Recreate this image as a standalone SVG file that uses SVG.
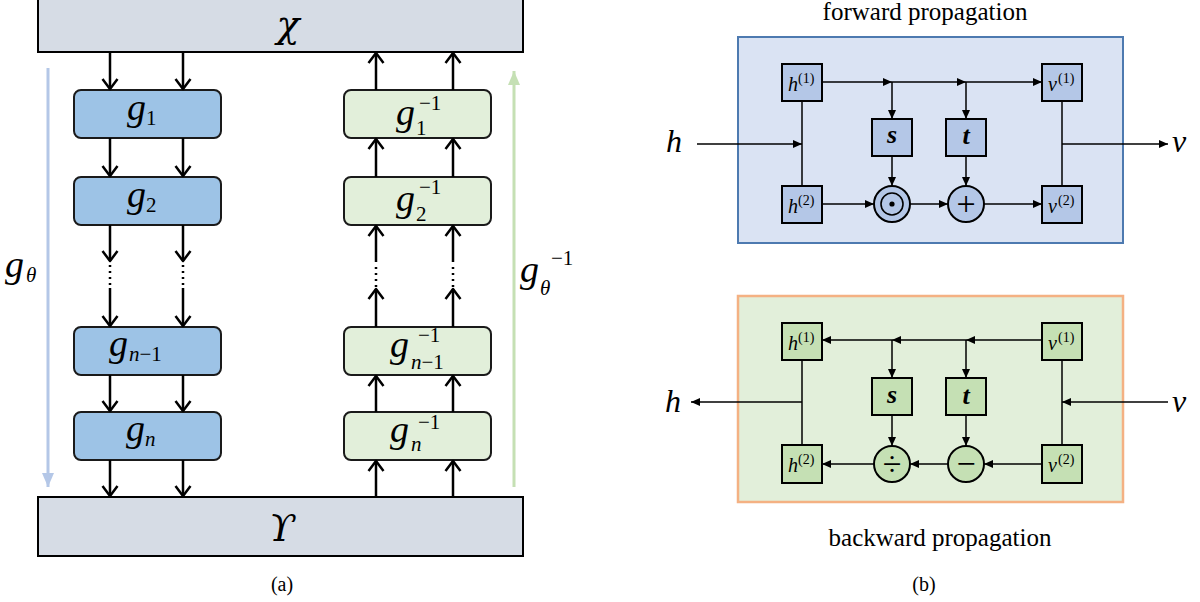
<svg xmlns="http://www.w3.org/2000/svg" width="1200" height="602" viewBox="0 0 1200 602">
<style>
.m{font-family:"Liberation Serif",serif;font-style:italic;font-size:38px;fill:#000}
.sb{font-family:"Liberation Serif",serif;font-style:normal;font-size:21px;fill:#000}
.si{font-family:"Liberation Serif",serif;font-style:italic;font-size:21px;fill:#000}
.big{font-family:"DejaVu Serif","Liberation Serif",serif;font-style:italic;font-size:38px;fill:#000}
.cap{font-family:"Liberation Serif",serif;font-size:25px;fill:#000}
.lab{font-family:"Liberation Serif",serif;font-size:20px;fill:#000}
.n{font-family:"Liberation Serif",serif;font-style:italic;font-size:20px;fill:#000}
.ns{font-family:"Liberation Serif",serif;font-size:14px;fill:#000}
.st{font-family:"Liberation Serif",serif;font-style:italic;font-weight:bold;font-size:26px;fill:#000}
.io{font-family:"Liberation Serif",serif;font-style:italic;font-size:32px;fill:#000}
.op{font-family:"Liberation Serif",serif;font-size:34px;fill:#000;text-anchor:middle}
.big-box{fill:#d6dce5;stroke:#000;stroke-width:2}
.gb{fill:#9dc3e6;stroke:#1a1a1a;stroke-width:2}
.gg{fill:#e2efda;stroke:#1a1a1a;stroke-width:2}
.fa{fill:none;stroke:#000;stroke-width:2.5;marker-end:url(#open)}
.dot{fill:none;stroke:#000;stroke-width:2.5;stroke-dasharray:2 4}
.sq1{fill:#b4c7e7;stroke:#000;stroke-width:2}
.sq2{fill:#c5e0b4;stroke:#000;stroke-width:2}
.c{fill:none;stroke:#000;stroke-width:1.5}
.ca{fill:none;stroke:#000;stroke-width:1.5;marker-end:url(#tri)}
</style>
<defs>
<marker id="open" viewBox="-12 -10 14 20" refX="0" refY="0" markerWidth="14" markerHeight="20" orient="auto" markerUnits="userSpaceOnUse">
<path d="M-10,-7.5 L0,0 L-10,7.5" fill="none" stroke="#000" stroke-width="2.5" stroke-linejoin="round"/>
</marker>
<marker id="tri" viewBox="0 0 9 8" refX="9" refY="4" markerWidth="9" markerHeight="8" orient="auto" markerUnits="userSpaceOnUse">
<path d="M0,0 L9,4 L0,8 z" fill="#000"/>
</marker>
<marker id="bhead" viewBox="0 0 14 12" refX="14" refY="6" markerWidth="14" markerHeight="12" orient="auto" markerUnits="userSpaceOnUse">
<path d="M0,0 L14,6 L0,12 z" fill="#b4c7e7"/>
</marker>
<marker id="ghead" viewBox="0 0 14 12" refX="14" refY="6" markerWidth="14" markerHeight="12" orient="auto" markerUnits="userSpaceOnUse">
<path d="M0,0 L14,6 L0,12 z" fill="#c5e0b4"/>
</marker>
</defs>
<rect width="1200" height="602" fill="#fff"/>

<!-- Panel (a) -->
<g id="X"><rect class="big-box" x="38" y="-2" width="485" height="54"/><text class="big" x="288" y="37" text-anchor="middle">χ</text></g>
<g id="Y"><rect class="big-box" x="38" y="497" width="485" height="59"/><text class="big" x="282" y="541" text-anchor="middle">ϒ</text></g>

<g id="g1"><rect class="gb" x="74" y="90" width="147" height="48" rx="7"/><text class="m" x="127" y="120">g</text><text class="sb" x="146" y="125">1</text></g>
<g id="g2"><rect class="gb" x="74" y="177" width="147" height="48" rx="7"/><text class="m" x="127" y="207">g</text><text class="sb" x="146" y="212">2</text></g>
<g id="gn1"><rect class="gb" x="74" y="327" width="147" height="48" rx="7"/><text class="m" x="109" y="356">g</text><text class="si" x="129" y="361">n<tspan class="sb">−1</tspan></text></g>
<g id="gn"><rect class="gb" x="74" y="412" width="147" height="48" rx="7"/><text class="m" x="126" y="441">g</text><text class="si" x="145" y="446">n</text></g>

<g id="ig1"><rect class="gg" x="344" y="90" width="147" height="48" rx="7"/><text class="m" x="396" y="125">g</text><text class="sb" x="419" y="110">−1</text><text class="sb" x="416" y="135">1</text></g>
<g id="ig2"><rect class="gg" x="344" y="177" width="147" height="48" rx="7"/><text class="m" x="396" y="211">g</text><text class="sb" x="419" y="194">−1</text><text class="sb" x="416" y="221">2</text></g>
<g id="ign1"><rect class="gg" x="344" y="327" width="147" height="48" rx="7"/><text class="m" x="390" y="357">g</text><text class="sb" x="418" y="342">−1</text><text class="si" x="411" y="369">n<tspan class="sb">−1</tspan></text></g>
<g id="ign"><rect class="gg" x="344" y="412" width="147" height="48" rx="7"/><text class="m" x="390" y="442">g</text><text class="sb" x="418" y="429">−1</text><text class="si" x="411" y="451">n</text></g>

<g id="gtheta"><text class="m" x="5" y="277">g</text><text class="si" x="26" y="282">θ</text></g>
<g id="gthetainv"><text class="m" x="520" y="282">g</text><text class="si" x="540" y="295">θ</text><text class="sb" x="551" y="265">−1</text></g>

<g id="connectors-a">
<line x1="48" y1="68" x2="48" y2="487" stroke="#b4c7e7" stroke-width="3" marker-end="url(#bhead)"/>
<line x1="514" y1="487" x2="514" y2="71" stroke="#c5e0b4" stroke-width="3" marker-end="url(#ghead)"/>
<path class="fa" d="M110,52 V89"/><path class="fa" d="M183,52 V89"/>
<path class="fa" d="M110,138 V176"/><path class="fa" d="M183,138 V176"/>
<path class="fa" d="M110,225 V261"/><path class="fa" d="M183,225 V261"/>
<path class="dot" d="M110,265 V288"/><path class="dot" d="M183,265 V288"/>
<path class="fa" d="M110,288 V326"/><path class="fa" d="M183,288 V326"/>
<path class="fa" d="M110,375 V411"/><path class="fa" d="M183,375 V411"/>
<path class="fa" d="M110,460 V496"/><path class="fa" d="M183,460 V496"/>
<path class="fa" d="M376,497 V461"/><path class="fa" d="M453,497 V461"/>
<path class="fa" d="M376,412 V376"/><path class="fa" d="M453,412 V376"/>
<path class="fa" d="M376,327 V289"/><path class="fa" d="M453,327 V289"/>
<path class="dot" d="M376,287 V263"/><path class="dot" d="M453,287 V263"/>
<path class="fa" d="M376,262 V226"/><path class="fa" d="M453,262 V226"/>
<path class="fa" d="M376,177 V139"/><path class="fa" d="M453,177 V139"/>
<path class="fa" d="M376,90 V53"/><path class="fa" d="M453,90 V53"/>
</g>
<text class="lab" x="282" y="591" text-anchor="middle">(a)</text>

<!-- Panel (b) forward -->
<text class="cap" x="925" y="20" text-anchor="middle">forward propagation</text>
<rect x="738" y="37" width="385" height="206" fill="#dae3f3" stroke="#4d7ab0" stroke-width="2"/>
<g id="connectors-fwd">
<path class="ca" d="M697,144 H802"/>
<path class="c" d="M802,101 V186"/>
<path class="c" d="M1062,101 V186"/>
<path class="ca" d="M1062,144 H1168"/>
<path class="ca" d="M822,82 H892"/>
<path class="ca" d="M892,82 H966"/>
<path class="ca" d="M966,82 H1042"/>
<path class="ca" d="M892,82 V119"/>
<path class="ca" d="M966,82 V119"/>
<path class="ca" d="M892,156 V186"/>
<path class="ca" d="M966,156 V186"/>
<path class="ca" d="M822,204 H874"/>
<path class="ca" d="M910,204 H948"/>
<path class="ca" d="M984,204 H1042"/>
</g>
<g id="f-h1"><rect class="sq1" x="782" y="64" width="40" height="37"/><text class="n" x="788" y="91">h</text><text class="ns" x="798" y="83">(1)</text></g>
<g id="f-v1"><rect class="sq1" x="1042" y="64" width="40" height="37"/><text class="n" x="1048" y="91">v</text><text class="ns" x="1058" y="83">(1)</text></g>
<g id="f-s"><rect class="sq1" x="872" y="119" width="40" height="37"/><text class="st" x="892" y="143" text-anchor="middle">s</text></g>
<g id="f-t"><rect class="sq1" x="946" y="119" width="40" height="37"/><text class="st" x="966" y="144" text-anchor="middle">t</text></g>
<g id="f-h2"><rect class="sq1" x="782" y="186" width="40" height="37"/><text class="n" x="788" y="213">h</text><text class="ns" x="798" y="205">(2)</text></g>
<g id="f-v2"><rect class="sq1" x="1042" y="186" width="40" height="37"/><text class="n" x="1048" y="213">v</text><text class="ns" x="1058" y="205">(2)</text></g>
<g id="f-odot"><circle cx="892" cy="204" r="18" fill="#b4c7e7" stroke="#000" stroke-width="2"/><circle cx="892" cy="204" r="11" fill="none" stroke="#000" stroke-width="1.6"/><circle cx="892" cy="204" r="2.6" fill="#000"/></g>
<g id="f-plus"><circle cx="966" cy="204" r="18" fill="#b4c7e7" stroke="#000" stroke-width="2"/><text class="op" x="966" y="215">+</text></g>
<text class="io" x="666" y="152">h</text>
<text class="io" x="1172" y="152">v</text>

<!-- Panel (b) backward -->
<rect x="738" y="296" width="385" height="206" fill="#e2efda" stroke="#f4b183" stroke-width="2.5"/>
<g id="connectors-bwd">
<path class="ca" d="M1042,340 H966"/>
<path class="ca" d="M966,340 H892"/>
<path class="ca" d="M892,340 H822"/>
<path class="ca" d="M892,340 V378"/>
<path class="ca" d="M966,340 V378"/>
<path class="c" d="M802,360 V445"/>
<path class="c" d="M1062,360 V445"/>
<path class="ca" d="M802,402 H691"/>
<path class="ca" d="M1168,402 H1062"/>
<path class="ca" d="M892,415 V446"/>
<path class="ca" d="M966,415 V446"/>
<path class="ca" d="M1042,464 H984"/>
<path class="ca" d="M948,464 H910"/>
<path class="ca" d="M874,464 H822"/>
</g>
<g id="b-h1"><rect class="sq2" x="782" y="323" width="40" height="37"/><text class="n" x="788" y="350">h</text><text class="ns" x="798" y="342">(1)</text></g>
<g id="b-v1"><rect class="sq2" x="1042" y="323" width="40" height="37"/><text class="n" x="1048" y="350">v</text><text class="ns" x="1058" y="342">(1)</text></g>
<g id="b-s"><rect class="sq2" x="872" y="378" width="40" height="37"/><text class="st" x="892" y="403" text-anchor="middle">s</text></g>
<g id="b-t"><rect class="sq2" x="946" y="378" width="40" height="37"/><text class="st" x="966" y="404" text-anchor="middle">t</text></g>
<g id="b-h2"><rect class="sq2" x="782" y="445" width="40" height="38"/><text class="n" x="788" y="472">h</text><text class="ns" x="798" y="464">(2)</text></g>
<g id="b-v2"><rect class="sq2" x="1042" y="445" width="40" height="38"/><text class="n" x="1048" y="472">v</text><text class="ns" x="1058" y="464">(2)</text></g>
<g id="b-div"><circle cx="892" cy="464" r="18" fill="#c5e0b4" stroke="#000" stroke-width="2"/><text class="op" x="892" y="475">÷</text></g>
<g id="b-minus"><circle cx="966" cy="464" r="18" fill="#c5e0b4" stroke="#000" stroke-width="2"/><text class="op" x="966" y="475">−</text></g>
<text class="io" x="665" y="412">h</text>
<text class="io" x="1172" y="412">v</text>
<text class="cap" x="940" y="546" text-anchor="middle">backward propagation</text>
<text class="lab" x="924" y="591" text-anchor="middle">(b)</text>
</svg>
